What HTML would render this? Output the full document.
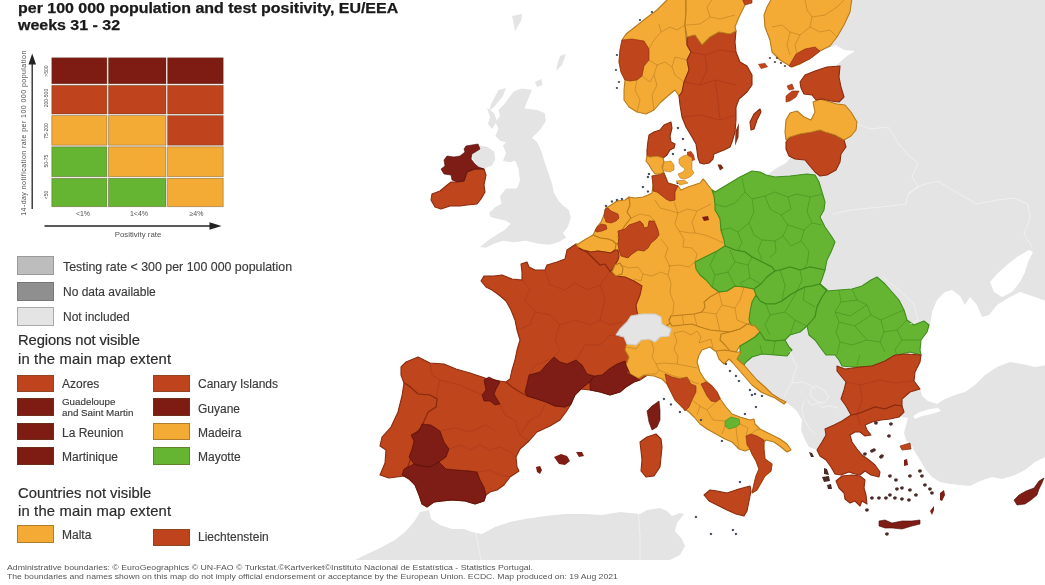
<!DOCTYPE html>
<html><head><meta charset="utf-8"><title>ECDC map</title>
<style>
html,body{margin:0;padding:0;background:#fff;}
body{width:1045px;height:585px;position:relative;overflow:hidden;font-family:"Liberation Sans",sans-serif;color:#333;}
#map{position:absolute;left:0;top:0;width:1045px;height:585px;}
.t{position:absolute;white-space:nowrap;line-height:1;}
.t,.lb,.hd,.ft,.tiny{filter:blur(0.35px);}
.title{left:18px;font-weight:bold;font-size:14px;color:#1a1a1a;transform-origin:0 0;transform:scaleX(1.14);-webkit-text-stroke:0.25px #1a1a1a;}
.sw{position:absolute;box-sizing:border-box;border:1px solid rgba(90,70,40,.45);}
.lb{position:absolute;white-space:nowrap;font-size:12px;line-height:12px;color:#3a3a3a;-webkit-text-stroke:0.15px #3a3a3a;}
.hd{position:absolute;white-space:nowrap;font-size:14.8px;line-height:15px;color:#2c2c2c;left:18px;-webkit-text-stroke:0.2px #2c2c2c;}
.ft{position:absolute;white-space:nowrap;font-size:8px;line-height:8px;color:#555;left:7px;transform-origin:0 0;}
.tiny{position:absolute;white-space:nowrap;font-size:6px;line-height:6px;color:#505050;}
</style></head><body>
<svg id="map" viewBox="0 0 1045 585">
<g filter="url(#bl)">
<polygon points="852,0 1045,0 1045,457 1035,462 1025,470 1015,475 1002,479 992,477 980,481 970,486 960,485 950,484 940,482 932,477 926,470 920,460 915,452 912,446 906,440 904,433 906,425 908,418 902,417 897,413 902,406 902,399 910,392 920,389 914,381 915,372 920,362 900,340 860,330 810,300 800,260 805,200 790,180 766,176 775,169 786,163 790,158 800,150 825,125 830,100 832,70 840,62 847,56 855,51 844,50 836,45 826,49 831,44 837,35 842,25 849,12" fill="#e4e4e4"/>
<polygon points="921,356 920,350 921,340 927,332 930,325 932,312 937,300 945,292 952,290 960,296 965,305 970,297 977,305 982,317 989,315 997,305 1010,297 1020,292 1035,297 1046,301 1046,365 1035,367 1022,364 1010,362 997,367 985,375 975,385 965,392 955,395 945,399 937,404 928,401 922,396 920,389 914,381 915,372 920,362" fill="#fff"/>
<polygon points="990,282 997,274 1007,265 1017,257 1029,250 1033,252 1028,262 1025,272 1020,282 1012,292 1002,297 994,292" fill="#fff"/>
<polygon points="913,416 920,412 930,409 938,408 941,411 932,414 922,416 915,419" fill="#fff"/>
<polygon points="745,350 770,330 830,325 850,370 855,420 830,452 817,450 809,447 805,440 801,430 802,420 797,411 786,402 775,396 760,385 745,370" fill="#e4e4e4"/>
<polygon points="355,560 365,555 380,548 395,540 405,532 414,522 420,512 429,510 431,519 440,525 452,529 464,529 472,532 482,534 495,527 510,522 525,519 545,516 565,514 585,514 602,515 620,512 640,514 647,510 660,508 667,511 672,516 680,513 684,514 677,523 675,531 682,539 685,546 680,555 670,560" fill="#e4e4e4"/>
<polygon points="513.8,91.5 521.5,88.5 532,90 526,104 524.6,108.5 537,110 544.6,113 546,120.8 540,130 532,137.7 537,142 541.5,151.5 544.6,162.3 549,174.6 552,184 554,193 558.5,200.8 563,205.4 569,210 570.8,217.7 567.7,227 563,233 566,237.7 558.5,242.3 549,244.8 538.5,243.8 526,240.8 513.8,242.3 503,240.8 493.8,243.8 486,247.8 480,247 487.7,240.8 497,234.6 504.6,230 510.8,223.8 506,220.8 498.5,219 490.8,217 489,213 495.4,207 501.5,203.8 500,196 506,188.5 517,188.5 520,180.8 518.5,168.5 515.4,160.8 509,162.3 503,160.8 506,153 503,145.4 506,142.3 500,140.8 495.4,136 498.5,128.5 495.4,122.3 500,116 498.5,110 504.6,103.8 509,97.7" fill="#e4e4e4"/>
<polygon points="498.5,90 506,88 503,96 494,107 489,111.5 491,104" fill="#e4e4e4"/>
<polygon points="487,108 494,113 497,121 492,129 488,124 490,117" fill="#e4e4e4"/>
<polygon points="535,82 541.5,79 542.5,85 537,87" fill="#e4e4e4"/>
<polygon points="560,56 566,54 562,65 556,71 558,62" fill="#e4e4e4"/>
<polygon points="512,16 522,14 521,21 515,31 514,25" fill="#e4e4e4"/>
<polygon points="480,145.4 487.7,147 494,151.5 495.4,159 492,165.4 484.6,168.5 478.5,167 472,158 474,151" fill="#e4e4e4"/>
<polygon points="629,197 635,198 643,197 648,195 652,193 653,185 652,176 658,175 664,173 668,183 675,185 678,186 681,190 688,187 694,185 700,183 703,179 705,181 708,185 712,190 730,200 730,260 722,295 705,320 672,332 650,330 630,318 630,290 610,275 610,230" fill="#f3ab36" stroke="#b87a1c" stroke-width="1.1" stroke-linejoin="round"/>
<polygon points="576,244 567,250 565,259 557,262 547,265 545,270 535,270 529,267 527,262 521,264 522,272 522,280 512,279 502,275 494,276 484,276 481,281 486,287 492,290 499,295 506,301 511,310 515,320 517,330 520,340 517,350 515,360 512,370 510,379 506,382 506,392 540,412 566,410 571,404 575,395 581,389 590,390 600,392 610,395 620,392 626,387 634,382 640,380 652,372 648,340 640,320 637,312 636,305 640,295 642,286 634,281 625,277 616,276 610,271 605,264 600,265 595,260 587,252 580,249" fill="#bf441d" stroke="#8a2c10" stroke-width="1.1" stroke-linejoin="round"/>
<polygon points="640,380 637,380 644,375 654,376 662,379 667,384 671,392 675,400 682,407 689,412 694,417 700,424 707,429 716,434 725,439 732,442 739,449 745,451 750,449 752,454 756,461 759,469 756,476 754,484 752,493 757,490 761,483 765,476 771,471 772,464 765,459 764,449 764,442 766,440 774,442 781,447 787,452 791,450 787,444 780,439 770,434 760,429 755,424 754,419 750,420 740,417 732,414 726,407 721,400 717,392 712,386 705,380 700,372 697,362 699,355 702,350 710,347 715,351 732,352 735,333 710,326 690,320 672,322 660,330 640,335 624,337 627,342 625,350 629,357 626,365 630,374" fill="#f3ab36" stroke="#b87a1c" stroke-width="1.1" stroke-linejoin="round"/>
<polygon points="704,302 710,297 719,292 727,291 735,286 744,287 754,289 758,295 754,302 752,310 752,316 749,324 740,329 730,332 720,331 710,330 700,327 692,324 682,325 672,326 669,321 671,316 682,315 694,314 702,312 705,307" fill="#f3ab36" stroke="#b87a1c" stroke-width="1.1" stroke-linejoin="round"/>
<polygon points="616,335 620,329 627,322 631,316 642,314 655,314 661,317 662,324 671,329 669,336 660,337 655,342 649,339 641,340 636,345 627,344 624,337" fill="#e4e4e4" stroke="#cfcfcf" stroke-width="1.1" stroke-linejoin="round"/>
<polygon points="593,235 597,227 601,222 604,215 606,208 611,205 617,201 625,200 629,197 630,205 627,212 631,218 626,224 622,230 618,236 619,243 616,244 613,241 608,239 600,238" fill="#f3ab36" stroke="#b87a1c" stroke-width="1.1" stroke-linejoin="round"/>
<polygon points="576,244 578,244 586,239 593,235 600,238 608,239 613,241 616,244 615,250 611,253 605,252 598,251 591,252 583,250 579,248" fill="#f3ab36" stroke="#b87a1c" stroke-width="1.1" stroke-linejoin="round"/>
<polygon points="579,248 583,250 591,252 598,251 605,252 611,253 615,250 618,250 619,256 618,260 615,265 612,270 610,271 605,264 600,265 595,260 587,252 580,249" fill="#bf441d" stroke="#8a2c10" stroke-width="1.1" stroke-linejoin="round"/>
<polygon points="615,265 620,263 623,268 622,274 616,276 612,272" fill="#f3ab36" stroke="#b87a1c" stroke-width="1.1" stroke-linejoin="round"/>
<polygon points="605,209 608,208 611,211 618,214 619,218 616,221 611,223 606,222 604,216" fill="#bf441d" stroke="#8a2c10" stroke-width="0.6" stroke-linejoin="round"/>
<polygon points="597,227 601,224 606,225 607,229 602,231 597,232 595,231" fill="#bf441d" stroke="#8a2c10" stroke-width="0.6" stroke-linejoin="round"/>
<polygon points="618,231 625,229 629,225 635,223 640,221 643,224 644,228 648,227 649,221 654,221 656,225 658,230 659,235 656,239 651,243 648,248 644,251 638,250 632,254 628,258 621,256 619,250 618,244 619,238" fill="#bf441d" stroke="#8a2c10" stroke-width="0.7" stroke-linejoin="round"/>
<polygon points="652,176 658,175 664,173 668,183 675,185 678,186 675,192 675,200 670,201 666,199 661,195 657,192 653,191 653,185" fill="#bf441d" stroke="#8a2c10" stroke-width="0.7" stroke-linejoin="round"/>
<polygon points="702,217 708,216 709,220 704,221" fill="#7e1b13"/>
<polygon points="712,190 715,192 725,186 740,177 752,171 760,172 766,175 775,177 790,176 807,174 815,175 819,182 822,192 825,202 824,210 820,217 825,227 832,237 835,242 831,252 827,260 825,270 820,269 810,267 800,270 790,267 780,270 775,271 772,267 762,262 752,257 745,252 735,250 725,246 724,240 721,230 720,219 718,215 715,210 715,204 714,196" fill="#66b532" stroke="#3f8d1d" stroke-width="1.1" stroke-linejoin="round"/>
<polygon points="695,262 705,257 717,251 725,246 735,250 745,252 752,257 762,262 772,267 775,271 767,277 761,284 754,289 744,287 735,286 727,291 719,292 712,287 706,280 700,275 696,269" fill="#66b532" stroke="#3f8d1d" stroke-width="1.1" stroke-linejoin="round"/>
<polygon points="775,271 780,270 790,267 800,270 810,267 820,269 825,270 822,279 820,284 812,286 805,287 797,291 790,295 782,301 775,304 766,304 760,301 756,295 754,289 761,284 767,277" fill="#66b532" stroke="#3f8d1d" stroke-width="1.1" stroke-linejoin="round"/>
<polygon points="752,302 756,295 760,301 766,304 775,304 782,301 790,295 797,291 805,287 812,286 820,284 827,290 822,297 817,307 815,317 807,326 800,332 790,335 785,340 775,341 765,340 757,334 752,327 749,320 750,312" fill="#66b532" stroke="#3f8d1d" stroke-width="1.1" stroke-linejoin="round"/>
<polygon points="820,284 827,291 839,290 852,289 862,286 871,280 877,277 885,284 892,292 899,300 904,310 907,320 914,325 924,321 929,325 927,332 921,340 920,350 921,355 910,352 897,355 887,360 877,365 865,367 852,367 842,366 839,360 835,355 826,355 820,347 815,340 809,335 807,326 815,317 817,307 822,297 827,290" fill="#66b532" stroke="#3f8d1d" stroke-width="1.1" stroke-linejoin="round"/>
<polygon points="730,332 740,329 747,324 755,326 760,332 755,337 747,342 740,346 736,352 730,351 725,345 720,340 721,334" fill="#f3ab36" stroke="#b87a1c" stroke-width="1.1" stroke-linejoin="round"/>
<polygon points="740,346 747,342 755,337 760,332 765,340 775,341 785,340 789,347 792,350 787,356 775,355 762,354 752,357 746,362 744,365 736,359 740,352" fill="#66b532" stroke="#3f8d1d" stroke-width="1.1" stroke-linejoin="round"/>
<polygon points="716,351 725,350 736,352 741,352 737,359 744,365 750,372 757,380 765,387 772,394 780,399 786,402 784,404 775,398 770,396 761,392 752,385 745,377 739,370 733,363 729,359 724,364 719,359" fill="#f3ab36" stroke="#b87a1c" stroke-width="1.1" stroke-linejoin="round"/>
<polygon points="837,366 845,369 860,367 872,366 885,361 895,355 907,354 921,355 920,362 915,372 914,381 920,389 910,392 902,399 902,406 895,405 885,409 875,407 865,411 857,414 851,415 846,406 841,399 844,390 846,382 841,376 837,371" fill="#bf441d" stroke="#8a2c10" stroke-width="1.1" stroke-linejoin="round"/>
<polygon points="851,415 857,414 865,411 875,407 885,409 895,405 902,406 904,412 899,417 890,419 881,420 872,422 865,425 867,430 871,435 865,436 860,432 855,432 850,435 852,442 857,449 862,455 869,460 875,465 880,472 879,477 871,475 865,471 860,475 855,474 849,472 841,475 835,474 831,467 826,460 820,456 817,450 822,442 826,435 825,429 834,425 842,421" fill="#bf441d" stroke="#8a2c10" stroke-width="1.1" stroke-linejoin="round"/>
<polygon points="836,481 842,476 852,475 860,476 865,480 864,488 866,495 867,504 862,501 860,506 855,501 850,503 845,499 844,493 839,488" fill="#bf441d" stroke="#8a2c10" stroke-width="1.1" stroke-linejoin="round"/>
<polygon points="879,521 885,520 892,523 902,521 912,521 920,520 920,524 912,526 902,529 892,528 885,528 879,526" fill="#7e1b13" stroke="#4e0e09" stroke-width="0.6" stroke-linejoin="round"/>
<polygon points="1014,500 1019,495 1026,491 1034,488 1039,481 1044,478 1042,483 1039,489 1037,495 1031,500 1025,504 1017,505" fill="#7e1b13" stroke="#4e0e09" stroke-width="0.6" stroke-linejoin="round"/>
<polygon points="401,367 406,362 418,357 430,363 444,364 456,369 470,373 485,378 500,381 506,382 512,387 520,392 527,396 537,399 546,402 555,406 565,407 571,404 566,412 560,420 550,426 537,432 529,441 520,449 516,457 517,467 519,471 510,477 504,485 497,490 490,492 486,495 484,501 475,504 465,501 452,500 442,501 434,502 427,507 422,504 419,495 415,485 409,479 402,475 404,476 408,466 412,455 417,443 414,434 421,428 424,421 428,412 436,407 437,399 430,395 418,394 409,386 404,383 401,375" fill="#bf441d" stroke="#8a2c10" stroke-width="1.1" stroke-linejoin="round"/>
<polygon points="404,383 409,386 418,394 430,395 437,399 436,407 428,412 424,421 421,428 414,434 417,443 412,455 408,466 404,476 389,478 380,475 385,463 386,450 380,446 382,437 391,427 398,412 402,396" fill="#bf441d" stroke="#8a2c10" stroke-width="1.1" stroke-linejoin="round"/>
<polygon points="484,380 489,377 495,380 500,382 496,389 494,394 497,399 500,404 495,405 490,401 484,401 482,395 486,390 485,385" fill="#7e1b13" stroke="#4e0e09" stroke-width="0.6" stroke-linejoin="round"/>
<polygon points="411,435 419,431 422,424 431,425 440,431 444,442 449,449 446,457 439,462 430,467 421,466 414,464 409,457 412,449 414,441" fill="#7e1b13" stroke="#4e0e09" stroke-width="0.6" stroke-linejoin="round"/>
<polygon points="414,464 421,466 430,467 439,462 446,469 457,470 470,471 477,472 480,480 484,487 486,495 484,501 475,504 465,501 452,500 442,501 434,502 427,507 422,504 419,495 415,485 409,479 402,475 404,469" fill="#7e1b13" stroke="#4e0e09" stroke-width="0.6" stroke-linejoin="round"/>
<polygon points="554,457 561,454 567,456 570,461 565,465 559,464" fill="#7e1b13"/>
<polygon points="576,452 582,452 584,456 579,457" fill="#7e1b13"/>
<polygon points="536,467 540,466 542,470 540,474 537,472" fill="#7e1b13"/>
<polygon points="525,392 527,384 529,375 540,372 547,364 554,357 560,362 567,364 576,360 582,365 587,374 594,376 590,382 581,389 575,395 571,404 565,407 555,406 546,402 537,399 527,396" fill="#7e1b13" stroke="#4e0e09" stroke-width="0.6" stroke-linejoin="round"/>
<polygon points="594,376 602,375 609,369 617,364 625,361 626,365 630,374 640,380 634,382 626,387 620,392 610,395 600,392 590,390 590,382" fill="#7e1b13" stroke="#4e0e09" stroke-width="0.6" stroke-linejoin="round"/>
<polygon points="647,411 652,406 659,401 660,410 660,420 657,427 652,430 649,422" fill="#7e1b13" stroke="#4e0e09" stroke-width="0.6" stroke-linejoin="round"/>
<polygon points="640,442 647,437 656,434 661,439 662,447 661,457 660,467 654,476 646,477 641,471 642,460 641,451" fill="#bf441d" stroke="#8a2c10" stroke-width="1.1" stroke-linejoin="round"/>
<polygon points="704,495 710,490 717,491 727,493 739,489 750,486 751,491 749,501 747,511 744,516 736,514 727,510 717,505 709,501" fill="#bf441d" stroke="#8a2c10" stroke-width="1.1" stroke-linejoin="round"/>
<polygon points="665,374 672,377 680,379 687,377 691,384 696,386 696,392 692,400 689,407 685,411 682,407 675,400 671,392 667,384" fill="#bf441d" stroke="#8a2c10" stroke-width="0.6" stroke-linejoin="round"/>
<polygon points="701,384 706,382 712,386 717,392 720,399 716,402 711,401 707,396 704,390" fill="#bf441d" stroke="#8a2c10" stroke-width="0.6" stroke-linejoin="round"/>
<polygon points="725,421 731,417 739,419 740,424 736,427 729,429 725,426" fill="#66b532" stroke="#3f8d1d" stroke-width="0.6" stroke-linejoin="round"/>
<polygon points="746,436 751,434 757,436 764,440 764,449 765,459 772,464 771,471 765,476 761,483 757,490 752,493 754,484 756,476 759,469 756,461 752,454 750,449 747,445" fill="#bf441d" stroke="#8a2c10" stroke-width="0.6" stroke-linejoin="round"/>
<polygon points="484,169 486,175 484,185 485,192 481,199 477,204 467,205 460,206 450,206 441,209 435,207 431,200 432,194 440,191 446,186 451,182 457,182 464,181 467,172 475,169" fill="#bf441d" stroke="#8a2c10" stroke-width="1.1" stroke-linejoin="round"/>
<polygon points="466,146 478,144 480,149 472,154 471,159 475,164 478.5,167 484,169 475,169 467,172 464,181 457,182 452,180 451,175 444,174 441,169 445,166 444,160 447,156 454,157 460,156 465,152 464,149" fill="#7e1b13" stroke="#4e0e09" stroke-width="0.6" stroke-linejoin="round"/>
<polygon points="667,0 657,10 645,19 635,27 626,34 622,40 620,50 619,62 621,72 625,80 624,90 624,100 629,107 637,112 646,114 654,110 661,102 669,95 675,90 679,96 682,92 684,82 689,70 687,60 691,52 687,45 686,37 685,25 686,12 686,-2 667,-2" fill="#f3ab36" stroke="#b87a1c" stroke-width="1.1" stroke-linejoin="round"/>
<polygon points="622,40 632,39 644,41 649,49 649,60 644,66 642,76 637,80 630,81 625,80 621,72 619,62 620,50" fill="#bf441d" stroke="#8a2c10" stroke-width="0.6" stroke-linejoin="round"/>
<polygon points="687,37 695,35 702,45 710,37 719,32 730,34 736,31 735,42 736,52 740,62 747,66 752,75 752,85 747,92 739,99 736,107 736,120 735,132 732,142 730,147 724,150 719,152 714,154 713,159 709,163 704,164 700,163 698,158 697,151 696,144 692,137 686,127 682,117 680,105 679,96 682,92 684,82 689,70 687,60 691,52 687,45" fill="#bf441d" stroke="#8a2c10" stroke-width="1.1" stroke-linejoin="round"/>
<polygon points="686,-2 742,-2 745,5 739,17 735,27 736,31 730,34 719,32 710,37 702,45 695,35 687,37 685,25 686,12" fill="#f3ab36" stroke="#b87a1c" stroke-width="1.1" stroke-linejoin="round"/>
<polygon points="742,-2 752,-2 752,3 745,5" fill="#bf441d" stroke="#8a2c10" stroke-width="0.6" stroke-linejoin="round"/>
<polygon points="750,122 754,114 760,109 761,112 757,120 754,129 751,130" fill="#bf441d" stroke="#8a2c10" stroke-width="1.1" stroke-linejoin="round"/>
<polygon points="735.5,131 739,123 738.5,137 735,146" fill="#8a3018"/>
<polygon points="772,-2 852,-2 850,12 844,25 837,37 830,46 820,51 812,57 800,64 792,67 790,66 780,60 772,52 770,40 765,27 764,15 767,7" fill="#f3ab36" stroke="#b87a1c" stroke-width="1.1" stroke-linejoin="round"/>
<polygon points="789,66 796,54 805,49 815,47 820,51 810,59 799,64 791,67" fill="#bf441d" stroke="#8a2c10" stroke-width="0.6" stroke-linejoin="round"/>
<polygon points="758,64 765,63 768,67 761,69" fill="#bf441d"/>
<polygon points="649,135 654,132 660,130 664,125 671,122 672,128 670,136 671,142 675,144 674,148 670,150 667,155 663,158 657,156 650,157 647,156 647,150 648,141" fill="#bf441d" stroke="#8a2c10" stroke-width="1.1" stroke-linejoin="round"/>
<polygon points="647,156 650,157 657,156 663,158 664,162 662,167 664,172 660,174 655,174 652,170 649,165 646,161" fill="#f3ab36" stroke="#b87a1c" stroke-width="1.1" stroke-linejoin="round"/>
<polygon points="664,162 671,161 674,165 674,170 670,172 665,171 663,167" fill="#f3ab36" stroke="#b87a1c" stroke-width="0.6" stroke-linejoin="round"/>
<polygon points="679,159 683,156 687,155 692,158 692,164 692,170 694,173 690,177 685,179 680,178 678,174 683,172 685,169 681,166 679,163" fill="#f3ab36" stroke="#b87a1c" stroke-width="0.6" stroke-linejoin="round"/>
<polygon points="687,152 691,151 694,155 695,160 692,161 692,158 687,155" fill="#bf441d"/>
<polygon points="717.5,164.5 721,164.5 723.5,168 720,170.5" fill="#7a2a18"/>
<polygon points="786,142 790,137 800,134 812,132 820,130 825,132 835,135 844,140 846,147 841,154 840,162 836,170 827,175 820,176 815,172 809,165 805,160 795,159 789,156 786,149" fill="#bf441d" stroke="#8a2c10" stroke-width="1.1" stroke-linejoin="round"/>
<polygon points="785,132 786,120 790,113 797,111 804,117 811,120 815,112 813,102 820,99 830,102 837,104 845,105 851,112 857,122 856,130 851,136 844,140 835,135 825,132 820,130 812,132 800,134 790,137 786,140" fill="#f3ab36" stroke="#b87a1c" stroke-width="1.1" stroke-linejoin="round"/>
<polygon points="800,82 805,75 815,71 827,67 840,66 839,77 841,87 844,97 839,102 831,101 822,99 816,100 812,95 804,94 801,88" fill="#bf441d" stroke="#8a2c10" stroke-width="1.1" stroke-linejoin="round"/>
<polygon points="786,96 792,91 799,91 796,97 790,101 786,102" fill="#bf441d" stroke="#8a2c10" stroke-width="0.6" stroke-linejoin="round"/>
<polygon points="787,86 792,84 794,89 789,90" fill="#bf441d" stroke="#8a2c10" stroke-width="0.6" stroke-linejoin="round"/>
<polygon points="872.2,448.92 874,448.2 875.8,449.1 875.44,451.26 873.46,451.8 872.2,450.72" fill="#4a2a26"/>
<polygon points="880.2,454.92 882,454.2 883.8,455.1 883.44,457.26 881.46,457.8 880.2,456.72" fill="#4a2a26"/>
<polygon points="863.2,452.92 865,452.2 866.8,453.1 866.44,455.26 864.46,455.8 863.2,454.72" fill="#4a2a26"/>
<polygon points="888.2,474.92 890,474.2 891.8,475.1 891.44,477.26 889.46,477.8 888.2,476.72" fill="#4a2a26"/>
<polygon points="894.2,478.92 896,478.2 897.8,479.1 897.44,481.26 895.46,481.8 894.2,480.72" fill="#4a2a26"/>
<polygon points="908.2,474.92 910,474.2 911.8,475.1 911.44,477.26 909.46,477.8 908.2,476.72" fill="#4a2a26"/>
<polygon points="918.2,469.92 920,469.2 921.8,470.1 921.44,472.26 919.46,472.8 918.2,471.72" fill="#4a2a26"/>
<polygon points="920.2,474.92 922,474.2 923.8,475.1 923.44,477.26 921.46,477.8 920.2,476.72" fill="#4a2a26"/>
<polygon points="923.2,483.92 925,483.2 926.8,484.1 926.44,486.26 924.46,486.8 923.2,485.72" fill="#4a2a26"/>
<polygon points="928.2,487.92 930,487.2 931.8,488.1 931.44,490.26 929.46,490.8 928.2,489.72" fill="#4a2a26"/>
<polygon points="930.2,491.92 932,491.2 933.8,492.1 933.44,494.26 931.46,494.8 930.2,493.72" fill="#4a2a26"/>
<polygon points="908.2,488.92 910,488.2 911.8,489.1 911.44,491.26 909.46,491.8 908.2,490.72" fill="#4a2a26"/>
<polygon points="900.2,486.92 902,486.2 903.8,487.1 903.44,489.26 901.46,489.8 900.2,488.72" fill="#4a2a26"/>
<polygon points="895.2,487.92 897,487.2 898.8,488.1 898.44,490.26 896.46,490.8 895.2,489.72" fill="#4a2a26"/>
<polygon points="888.2,493.92 890,493.2 891.8,494.1 891.44,496.26 889.46,496.8 888.2,495.72" fill="#4a2a26"/>
<polygon points="884.2,496.92 886,496.2 887.8,497.1 887.44,499.26 885.46,499.8 884.2,498.72" fill="#4a2a26"/>
<polygon points="893.2,496.92 895,496.2 896.8,497.1 896.44,499.26 894.46,499.8 893.2,498.72" fill="#4a2a26"/>
<polygon points="900.2,497.92 902,497.2 903.8,498.1 903.44,500.26 901.46,500.8 900.2,499.72" fill="#4a2a26"/>
<polygon points="907.2,498.92 909,498.2 910.8,499.1 910.44,501.26 908.46,501.8 907.2,500.72" fill="#4a2a26"/>
<polygon points="914.2,493.92 916,493.2 917.8,494.1 917.44,496.26 915.46,496.8 914.2,495.72" fill="#4a2a26"/>
<polygon points="870.2,496.92 872,496.2 873.8,497.1 873.44,499.26 871.46,499.8 870.2,498.72" fill="#4a2a26"/>
<polygon points="877.2,496.92 879,496.2 880.8,497.1 880.44,499.26 878.46,499.8 877.2,498.72" fill="#4a2a26"/>
<polygon points="865.2,508.92 867,508.2 868.8,509.1 868.44,511.26 866.46,511.8 865.2,510.72" fill="#4a2a26"/>
<polygon points="885.2,532.92 887,532.2 888.8,533.1 888.44,535.26 886.46,535.8 885.2,534.72" fill="#4a2a26"/>
<polygon points="879.2,455.92 881,455.2 882.8,456.1 882.44,458.26 880.46,458.8 879.2,457.72" fill="#4a2a26"/>
<polygon points="870.2,449.92 872,449.2 873.8,450.1 873.44,452.26 871.46,452.8 870.2,451.72" fill="#4a2a26"/>
<polygon points="874.2,421.92 876,421.2 877.8,422.1 877.44,424.26 875.46,424.8 874.2,423.72" fill="#4a2a26"/>
<polygon points="889.2,422.92 891,422.2 892.8,423.1 892.44,425.26 890.46,425.8 889.2,424.72" fill="#4a2a26"/>
<polygon points="887.2,434.92 889,434.2 890.8,435.1 890.44,437.26 888.46,437.8 887.2,436.72" fill="#4a2a26"/>
<polygon points="900,446 910,443 911,449 902,450" fill="#bf441d" stroke="#8a2c10" stroke-width="0.7" stroke-linejoin="round"/>
<polygon points="904,460 907,459 908,465 904,466" fill="#7e1b13"/>
<polygon points="940,493 944,490 945,495 942,501 940,500" fill="#7e1b13"/>
<polygon points="930,511 934,506 934,510 932,515" fill="#7e1b13"/>
<polygon points="809,452 812,453 814,457 811,457" fill="#4a2a26"/>
<polygon points="824,468 827,469 829,475 824,474" fill="#4a2a26"/>
<polygon points="822,477 829,476 830,481 824,482" fill="#4a2a26"/>
<polygon points="827,485 831,484 832,489 828,489" fill="#4a2a26"/>
<polygon points="662.8,398.28 664,397.8 665.2,398.4 664.96,399.84 663.64,400.2 662.8,399.48" fill="#3f4c5c"/>
<polygon points="669.8,403.78 671,403.3 672.2,403.9 671.96,405.34 670.64,405.7 669.8,404.98" fill="#3f4c5c"/>
<polygon points="678.8,411.28 680,410.8 681.2,411.4 680.96,412.84 679.64,413.2 678.8,412.48" fill="#3f4c5c"/>
<polygon points="699.8,419.28 701,418.8 702.2,419.4 701.96,420.84 700.64,421.2 699.8,420.48" fill="#3f4c5c"/>
<polygon points="720.8,440.28 722,439.8 723.2,440.4 722.96,441.84 721.64,442.2 720.8,441.48" fill="#3f4c5c"/>
<polygon points="743.8,413.28 745,412.8 746.2,413.4 745.96,414.84 744.64,415.2 743.8,414.48" fill="#3f4c5c"/>
<polygon points="738.8,481.28 740,480.8 741.2,481.4 740.96,482.84 739.64,483.2 738.8,482.48" fill="#3f4c5c"/>
<polygon points="754.8,406.28 756,405.8 757.2,406.4 756.96,407.84 755.64,408.2 754.8,407.48" fill="#3f4c5c"/>
<polygon points="750.8,394.28 752,393.8 753.2,394.4 752.96,395.84 751.64,396.2 750.8,395.48" fill="#3f4c5c"/>
<polygon points="724.8,363.28 726,362.8 727.2,363.4 726.96,364.84 725.64,365.2 724.8,364.48" fill="#3f4c5c"/>
<polygon points="728.8,370.28 730,369.8 731.2,370.4 730.96,371.84 729.64,372.2 728.8,371.48" fill="#3f4c5c"/>
<polygon points="734.8,375.28 736,374.8 737.2,375.4 736.96,376.84 735.64,377.2 734.8,376.48" fill="#3f4c5c"/>
<polygon points="737.8,380.28 739,379.8 740.2,380.4 739.96,381.84 738.64,382.2 737.8,381.48" fill="#3f4c5c"/>
<polygon points="748.8,389.28 750,388.8 751.2,389.4 750.96,390.84 749.64,391.2 748.8,390.48" fill="#3f4c5c"/>
<polygon points="753.8,393.28 755,392.8 756.2,393.4 755.96,394.84 754.64,395.2 753.8,394.48" fill="#3f4c5c"/>
<polygon points="760.8,395.28 762,394.8 763.2,395.4 762.96,396.84 761.64,397.2 760.8,396.48" fill="#3f4c5c"/>
<polygon points="694.8,516.28 696,515.8 697.2,516.4 696.96,517.84 695.64,518.2 694.8,517.48" fill="#3f4c5c"/>
<polygon points="709.8,533.28 711,532.8 712.2,533.4 711.96,534.84 710.64,535.2 709.8,534.48" fill="#3f4c5c"/>
<polygon points="731.8,529.28 733,528.8 734.2,529.4 733.96,530.84 732.64,531.2 731.8,530.48" fill="#3f4c5c"/>
<polygon points="734.8,533.28 736,532.8 737.2,533.4 736.96,534.84 735.64,535.2 734.8,534.48" fill="#3f4c5c"/>
<polygon points="676.8,127.28 678,126.8 679.2,127.4 678.96,128.84 677.64,129.2 676.8,128.48" fill="#3f4c5c"/>
<polygon points="681.8,138.28 683,137.8 684.2,138.4 683.96,139.84 682.64,140.2 681.8,139.48" fill="#3f4c5c"/>
<polygon points="683.8,149.28 685,148.8 686.2,149.4 685.96,150.84 684.64,151.2 683.8,150.48" fill="#3f4c5c"/>
<polygon points="671.8,153.28 673,152.8 674.2,153.4 673.96,154.84 672.64,155.2 671.8,154.48" fill="#3f4c5c"/>
<polygon points="641.8,186.28 643,185.8 644.2,186.4 643.96,187.84 642.64,188.2 641.8,187.48" fill="#3f4c5c"/>
<polygon points="646.8,190.78 648,190.3 649.2,190.9 648.96,192.34 647.64,192.7 646.8,191.98" fill="#3f4c5c"/>
<polygon points="646.8,176.28 648,175.8 649.2,176.4 648.96,177.84 647.64,178.2 646.8,177.48" fill="#3f4c5c"/>
<polygon points="647.8,173.28 649,172.8 650.2,173.4 649.96,174.84 648.64,175.2 647.8,174.48" fill="#3f4c5c"/>
<polygon points="610.8,200.78 612,200.3 613.2,200.9 612.96,202.34 611.64,202.7 610.8,201.98" fill="#3f4c5c"/>
<polygon points="604.8,205.28 606,204.8 607.2,205.4 606.96,206.84 605.64,207.2 604.8,206.48" fill="#3f4c5c"/>
<polygon points="676.5,182.28 677.7,181.8 678.9,182.4 678.66,183.84 677.34,184.2 676.5,183.48" fill="#3f4c5c"/>
<polygon points="620.8,198.28 622,197.8 623.2,198.4 622.96,199.84 621.64,200.2 620.8,199.48" fill="#3f4c5c"/>
<polygon points="615.8,199.28 617,198.8 618.2,199.4 617.96,200.84 616.64,201.2 615.8,200.48" fill="#3f4c5c"/>
<polygon points="676,181 684,180 688,183 680,185" fill="#f3ab36" stroke="#b87a1c" stroke-width="0.6" stroke-linejoin="round"/>
<polygon points="615.9,54.34 617,53.9 618.1,54.45 617.88,55.77 616.67,56.1 615.9,55.44" fill="#3f4c5c"/>
<polygon points="614.9,69.34 616,68.9 617.1,69.45 616.88,70.77 615.67,71.1 614.9,70.44" fill="#3f4c5c"/>
<polygon points="617.9,81.34 619,80.9 620.1,81.45 619.88,82.77 618.67,83.1 617.9,82.44" fill="#3f4c5c"/>
<polygon points="615.9,87.34 617,86.9 618.1,87.45 617.88,88.77 616.67,89.1 615.9,88.44" fill="#3f4c5c"/>
<polygon points="650.9,11.34 652,10.9 653.1,11.45 652.88,12.77 651.67,13.1 650.9,12.44" fill="#3f4c5c"/>
<polygon points="638.9,19.34 640,18.9 641.1,19.45 640.88,20.77 639.67,21.1 638.9,20.44" fill="#3f4c5c"/>
<polygon points="768.9,57.34 770,56.9 771.1,57.45 770.88,58.77 769.67,59.1 768.9,58.44" fill="#5a4a4a"/>
<polygon points="773.9,61.34 775,60.9 776.1,61.45 775.88,62.77 774.67,63.1 773.9,62.44" fill="#5a4a4a"/>
<polygon points="779.9,62.34 781,61.9 782.1,62.45 781.88,63.77 780.67,64.1 779.9,63.44" fill="#5a4a4a"/>
<polygon points="783.9,65.34 785,64.9 786.1,65.45 785.88,66.77 784.67,67.1 783.9,66.44" fill="#5a4a4a"/>
<polygon points="775.9,57.34 777,56.9 778.1,57.45 777.88,58.77 776.67,59.1 775.9,58.44" fill="#5a4a4a"/>
<polyline points="674,202 678,213 675,224 679,231 684,239 683,247" fill="none" stroke="#b87a1c" stroke-opacity="0.8" stroke-width="0.7" stroke-linejoin="round"/>
<polyline points="678,213 687,209 697,211 705,207 711,204" fill="none" stroke="#b87a1c" stroke-opacity="0.8" stroke-width="0.7" stroke-linejoin="round"/>
<polyline points="695,233 705,235 715,239 723,243" fill="none" stroke="#b87a1c" stroke-opacity="0.8" stroke-width="0.7" stroke-linejoin="round"/>
<polyline points="683,247 692,248 697,254 695,262" fill="none" stroke="#b87a1c" stroke-opacity="0.8" stroke-width="0.7" stroke-linejoin="round"/>
<polyline points="661,239 668,248 665,257 670,266 668,275 671,283" fill="none" stroke="#b87a1c" stroke-opacity="0.8" stroke-width="0.7" stroke-linejoin="round"/>
<polyline points="671,283 670,293 674,303 673,313 668,320" fill="none" stroke="#b87a1c" stroke-opacity="0.8" stroke-width="0.7" stroke-linejoin="round"/>
<polyline points="620,265 629,268 638,267 643,274 641,281 634,279" fill="none" stroke="#b87a1c" stroke-opacity="0.8" stroke-width="0.7" stroke-linejoin="round"/>
<polyline points="643,274 652,276 661,272 668,275" fill="none" stroke="#b87a1c" stroke-opacity="0.8" stroke-width="0.7" stroke-linejoin="round"/>
<polyline points="668,266 679,265 689,267 695,262" fill="none" stroke="#b87a1c" stroke-opacity="0.8" stroke-width="0.7" stroke-linejoin="round"/>
<polyline points="695,233 692,222 697,211" fill="none" stroke="#b87a1c" stroke-opacity="0.8" stroke-width="0.7" stroke-linejoin="round"/>
<polyline points="679,231 690,233 695,233" fill="none" stroke="#b87a1c" stroke-opacity="0.8" stroke-width="0.7" stroke-linejoin="round"/>
<polyline points="655,200 660,208 668,210 678,213" fill="none" stroke="#b87a1c" stroke-opacity="0.8" stroke-width="0.7" stroke-linejoin="round"/>
<polyline points="631,218 640,214 650,216 656,222" fill="none" stroke="#b87a1c" stroke-opacity="0.8" stroke-width="0.7" stroke-linejoin="round"/>
<polyline points="742,178 745,192 752,199 765,196 775,192 788,197 797,194 810,197 823,194" fill="none" stroke="#3f8d1d" stroke-opacity="0.8" stroke-width="0.7" stroke-linejoin="round"/>
<polyline points="752,199 754,212 749,223 754,235 762,240" fill="none" stroke="#3f8d1d" stroke-opacity="0.8" stroke-width="0.7" stroke-linejoin="round"/>
<polyline points="765,196 770,209 781,215 788,225 783,236 775,241 762,240" fill="none" stroke="#3f8d1d" stroke-opacity="0.8" stroke-width="0.7" stroke-linejoin="round"/>
<polyline points="788,197 791,209 781,215" fill="none" stroke="#3f8d1d" stroke-opacity="0.8" stroke-width="0.7" stroke-linejoin="round"/>
<polyline points="810,197 807,212 812,223 804,230 788,225" fill="none" stroke="#3f8d1d" stroke-opacity="0.8" stroke-width="0.7" stroke-linejoin="round"/>
<polyline points="783,236 791,246 801,241 804,230" fill="none" stroke="#3f8d1d" stroke-opacity="0.8" stroke-width="0.7" stroke-linejoin="round"/>
<polyline points="801,241 809,251 807,264 804,269" fill="none" stroke="#3f8d1d" stroke-opacity="0.8" stroke-width="0.7" stroke-linejoin="round"/>
<polyline points="775,241 776,252 770,257" fill="none" stroke="#3f8d1d" stroke-opacity="0.8" stroke-width="0.7" stroke-linejoin="round"/>
<polyline points="812,223 822,225" fill="none" stroke="#3f8d1d" stroke-opacity="0.8" stroke-width="0.7" stroke-linejoin="round"/>
<polyline points="715,204 725,207 735,203 745,192" fill="none" stroke="#3f8d1d" stroke-opacity="0.8" stroke-width="0.7" stroke-linejoin="round"/>
<polyline points="720,230 730,228 738,232 749,223" fill="none" stroke="#3f8d1d" stroke-opacity="0.8" stroke-width="0.7" stroke-linejoin="round"/>
<polyline points="738,232 742,243 738,250" fill="none" stroke="#3f8d1d" stroke-opacity="0.8" stroke-width="0.7" stroke-linejoin="round"/>
<polyline points="762,240 758,250 762,260" fill="none" stroke="#3f8d1d" stroke-opacity="0.8" stroke-width="0.7" stroke-linejoin="round"/>
<polyline points="651,341 654,349 652,357 656,364 659,370 656,374" fill="none" stroke="#b87a1c" stroke-opacity="0.8" stroke-width="0.7" stroke-linejoin="round"/>
<polyline points="674,333 677,341 674,349 678,357 677,364" fill="none" stroke="#b87a1c" stroke-opacity="0.8" stroke-width="0.7" stroke-linejoin="round"/>
<polyline points="656,364 664,363 677,364 687,366 697,368" fill="none" stroke="#b87a1c" stroke-opacity="0.8" stroke-width="0.7" stroke-linejoin="round"/>
<polyline points="659,370 668,374 677,377 687,378 693,382 699,384" fill="none" stroke="#b87a1c" stroke-opacity="0.8" stroke-width="0.7" stroke-linejoin="round"/>
<polyline points="674,333 683,331 691,335 697,331 701,337 699,343" fill="none" stroke="#b87a1c" stroke-opacity="0.8" stroke-width="0.7" stroke-linejoin="round"/>
<polyline points="699,343 705,341 711,339 713,348" fill="none" stroke="#b87a1c" stroke-opacity="0.8" stroke-width="0.7" stroke-linejoin="round"/>
<polyline points="627,372 638,378 648,374 656,374" fill="none" stroke="#b87a1c" stroke-opacity="0.8" stroke-width="0.7" stroke-linejoin="round"/>
<polyline points="627,347 636,349 640,344" fill="none" stroke="#b87a1c" stroke-opacity="0.8" stroke-width="0.7" stroke-linejoin="round"/>
<polyline points="692,400 700,406 707,410 716,402" fill="none" stroke="#b87a1c" stroke-opacity="0.8" stroke-width="0.7" stroke-linejoin="round"/>
<polyline points="700,406 697,415" fill="none" stroke="#b87a1c" stroke-opacity="0.8" stroke-width="0.7" stroke-linejoin="round"/>
<polyline points="707,410 713,420 725,421" fill="none" stroke="#b87a1c" stroke-opacity="0.8" stroke-width="0.7" stroke-linejoin="round"/>
<polyline points="725,426 722,434" fill="none" stroke="#b87a1c" stroke-opacity="0.8" stroke-width="0.7" stroke-linejoin="round"/>
<polyline points="740,424 748,428 746,436" fill="none" stroke="#b87a1c" stroke-opacity="0.8" stroke-width="0.7" stroke-linejoin="round"/>
<polyline points="736,427 737,437 739,449" fill="none" stroke="#b87a1c" stroke-opacity="0.8" stroke-width="0.7" stroke-linejoin="round"/>
<polyline points="751,434 756,430 760,429" fill="none" stroke="#b87a1c" stroke-opacity="0.8" stroke-width="0.7" stroke-linejoin="round"/>
<polyline points="682,315 684,325" fill="none" stroke="#b87a1c" stroke-opacity="0.8" stroke-width="0.7" stroke-linejoin="round"/>
<polyline points="694,314 697,326" fill="none" stroke="#b87a1c" stroke-opacity="0.8" stroke-width="0.7" stroke-linejoin="round"/>
<polyline points="719,292 722,305 735,308 740,300 744,287" fill="none" stroke="#b87a1c" stroke-opacity="0.8" stroke-width="0.7" stroke-linejoin="round"/>
<polyline points="722,305 716,314 720,331" fill="none" stroke="#b87a1c" stroke-opacity="0.8" stroke-width="0.7" stroke-linejoin="round"/>
<polyline points="735,308 737,320 747,324" fill="none" stroke="#b87a1c" stroke-opacity="0.8" stroke-width="0.7" stroke-linejoin="round"/>
<polyline points="716,314 702,312" fill="none" stroke="#b87a1c" stroke-opacity="0.8" stroke-width="0.7" stroke-linejoin="round"/>
<polyline points="659,24 661,32 670,27 677,30 685,25" fill="none" stroke="#b87a1c" stroke-opacity="0.8" stroke-width="0.7" stroke-linejoin="round"/>
<polyline points="661,32 654,40 649,49" fill="none" stroke="#b87a1c" stroke-opacity="0.8" stroke-width="0.7" stroke-linejoin="round"/>
<polyline points="649,60 657,65 665,62 672,67 675,75 684,82" fill="none" stroke="#b87a1c" stroke-opacity="0.8" stroke-width="0.7" stroke-linejoin="round"/>
<polyline points="657,65 654,75 657,85 652,95 654,110" fill="none" stroke="#b87a1c" stroke-opacity="0.8" stroke-width="0.7" stroke-linejoin="round"/>
<polyline points="642,76 650,82 654,75" fill="none" stroke="#b87a1c" stroke-opacity="0.8" stroke-width="0.7" stroke-linejoin="round"/>
<polyline points="637,80 635,90 640,100 637,112" fill="none" stroke="#b87a1c" stroke-opacity="0.8" stroke-width="0.7" stroke-linejoin="round"/>
<polyline points="672,67 675,57 687,60" fill="none" stroke="#b87a1c" stroke-opacity="0.8" stroke-width="0.7" stroke-linejoin="round"/>
<polyline points="686,25 700,24 710,17 720,19 735,15" fill="none" stroke="#b87a1c" stroke-opacity="0.8" stroke-width="0.7" stroke-linejoin="round"/>
<polyline points="710,17 707,7 712,0" fill="none" stroke="#b87a1c" stroke-opacity="0.8" stroke-width="0.7" stroke-linejoin="round"/>
<polyline points="805,0 807,10 812,17 810,27 800,35 795,45 797,54" fill="none" stroke="#b87a1c" stroke-opacity="0.8" stroke-width="0.7" stroke-linejoin="round"/>
<polyline points="812,17 825,15 837,7 844,0" fill="none" stroke="#b87a1c" stroke-opacity="0.8" stroke-width="0.7" stroke-linejoin="round"/>
<polyline points="810,27 820,32 830,30 837,37" fill="none" stroke="#b87a1c" stroke-opacity="0.8" stroke-width="0.7" stroke-linejoin="round"/>
<polyline points="772,27 782,25 790,32 800,35" fill="none" stroke="#b87a1c" stroke-opacity="0.8" stroke-width="0.7" stroke-linejoin="round"/>
<polyline points="790,32 787,45 790,55" fill="none" stroke="#b87a1c" stroke-opacity="0.8" stroke-width="0.7" stroke-linejoin="round"/>
<polyline points="691,52 705,55 720,50 736,52" fill="none" stroke="#8a2c10" stroke-opacity="0.5" stroke-width="0.6" stroke-linejoin="round"/>
<polyline points="684,82 700,85 715,80 736,85" fill="none" stroke="#8a2c10" stroke-opacity="0.5" stroke-width="0.6" stroke-linejoin="round"/>
<polyline points="682,117 700,115 720,120 736,115" fill="none" stroke="#8a2c10" stroke-opacity="0.5" stroke-width="0.6" stroke-linejoin="round"/>
<polyline points="705,55 707,70 700,85" fill="none" stroke="#8a2c10" stroke-opacity="0.5" stroke-width="0.6" stroke-linejoin="round"/>
<polyline points="715,80 718,100 720,120" fill="none" stroke="#8a2c10" stroke-opacity="0.5" stroke-width="0.6" stroke-linejoin="round"/>
<polyline points="839,290 841,302 835,312 839,322 836,332 840,342 837,355" fill="none" stroke="#3f8d1d" stroke-opacity="0.8" stroke-width="0.7" stroke-linejoin="round"/>
<polyline points="852,289 857,300 867,305 871,315 881,320 884,332 880,342 885,352" fill="none" stroke="#3f8d1d" stroke-opacity="0.8" stroke-width="0.7" stroke-linejoin="round"/>
<polyline points="841,302 857,300" fill="none" stroke="#3f8d1d" stroke-opacity="0.8" stroke-width="0.7" stroke-linejoin="round"/>
<polyline points="835,312 850,316 867,305" fill="none" stroke="#3f8d1d" stroke-opacity="0.8" stroke-width="0.7" stroke-linejoin="round"/>
<polyline points="839,322 855,326 871,315" fill="none" stroke="#3f8d1d" stroke-opacity="0.8" stroke-width="0.7" stroke-linejoin="round"/>
<polyline points="881,320 892,315 904,310" fill="none" stroke="#3f8d1d" stroke-opacity="0.8" stroke-width="0.7" stroke-linejoin="round"/>
<polyline points="884,332 897,330 907,320" fill="none" stroke="#3f8d1d" stroke-opacity="0.8" stroke-width="0.7" stroke-linejoin="round"/>
<polyline points="880,342 867,340 855,326" fill="none" stroke="#3f8d1d" stroke-opacity="0.8" stroke-width="0.7" stroke-linejoin="round"/>
<polyline points="840,342 852,345 867,340" fill="none" stroke="#3f8d1d" stroke-opacity="0.8" stroke-width="0.7" stroke-linejoin="round"/>
<polyline points="860,355 857,365" fill="none" stroke="#3f8d1d" stroke-opacity="0.8" stroke-width="0.7" stroke-linejoin="round"/>
<polyline points="897,330 902,340 895,350 897,355" fill="none" stroke="#3f8d1d" stroke-opacity="0.8" stroke-width="0.7" stroke-linejoin="round"/>
<polyline points="902,340 920,340" fill="none" stroke="#3f8d1d" stroke-opacity="0.8" stroke-width="0.7" stroke-linejoin="round"/>
<polyline points="766,304 770,315 765,325 770,335" fill="none" stroke="#3f8d1d" stroke-opacity="0.8" stroke-width="0.7" stroke-linejoin="round"/>
<polyline points="770,315 785,312 797,291" fill="none" stroke="#3f8d1d" stroke-opacity="0.8" stroke-width="0.7" stroke-linejoin="round"/>
<polyline points="785,312 795,320 807,326" fill="none" stroke="#3f8d1d" stroke-opacity="0.8" stroke-width="0.7" stroke-linejoin="round"/>
<polyline points="795,320 790,335" fill="none" stroke="#3f8d1d" stroke-opacity="0.8" stroke-width="0.7" stroke-linejoin="round"/>
<polyline points="805,287 803,300 815,307" fill="none" stroke="#3f8d1d" stroke-opacity="0.8" stroke-width="0.7" stroke-linejoin="round"/>
<polyline points="712,287 715,275 710,265 717,251" fill="none" stroke="#3f8d1d" stroke-opacity="0.8" stroke-width="0.7" stroke-linejoin="round"/>
<polyline points="715,275 728,272 735,262 730,250" fill="none" stroke="#3f8d1d" stroke-opacity="0.8" stroke-width="0.7" stroke-linejoin="round"/>
<polyline points="728,272 735,286" fill="none" stroke="#3f8d1d" stroke-opacity="0.8" stroke-width="0.7" stroke-linejoin="round"/>
<polyline points="735,262 748,265 752,257" fill="none" stroke="#3f8d1d" stroke-opacity="0.8" stroke-width="0.7" stroke-linejoin="round"/>
<polyline points="748,265 750,278 761,284" fill="none" stroke="#3f8d1d" stroke-opacity="0.8" stroke-width="0.7" stroke-linejoin="round"/>
<polyline points="750,278 740,283 744,287" fill="none" stroke="#3f8d1d" stroke-opacity="0.8" stroke-width="0.7" stroke-linejoin="round"/>
<polyline points="782,301 785,285 780,270" fill="none" stroke="#3f8d1d" stroke-opacity="0.8" stroke-width="0.7" stroke-linejoin="round"/>
<polyline points="797,291 802,280 800,270" fill="none" stroke="#3f8d1d" stroke-opacity="0.8" stroke-width="0.7" stroke-linejoin="round"/>
<polyline points="760,345 762,354" fill="none" stroke="#3f8d1d" stroke-opacity="0.8" stroke-width="0.7" stroke-linejoin="round"/>
<polyline points="775,341 773,355" fill="none" stroke="#3f8d1d" stroke-opacity="0.8" stroke-width="0.7" stroke-linejoin="round"/>
<polyline points="522,280 530,290 525,300 535,312 530,325 517,330" fill="none" stroke="#8a2c10" stroke-opacity="0.45" stroke-width="0.6" stroke-linejoin="round"/>
<polyline points="545,270 550,285 565,290 575,283 587,290 600,285 610,271" fill="none" stroke="#8a2c10" stroke-opacity="0.45" stroke-width="0.6" stroke-linejoin="round"/>
<polyline points="535,312 550,315 560,325 555,340 560,350 554,357" fill="none" stroke="#8a2c10" stroke-opacity="0.45" stroke-width="0.6" stroke-linejoin="round"/>
<polyline points="560,325 575,320 590,325 600,320 610,325 622,322" fill="none" stroke="#8a2c10" stroke-opacity="0.45" stroke-width="0.6" stroke-linejoin="round"/>
<polyline points="600,285 605,300 600,320" fill="none" stroke="#8a2c10" stroke-opacity="0.45" stroke-width="0.6" stroke-linejoin="round"/>
<polyline points="576,360 585,345 600,345 610,335 620,336" fill="none" stroke="#8a2c10" stroke-opacity="0.45" stroke-width="0.6" stroke-linejoin="round"/>
<polyline points="529,375 535,365 548,360 554,357" fill="none" stroke="#8a2c10" stroke-opacity="0.45" stroke-width="0.6" stroke-linejoin="round"/>
<polyline points="430,363 432,375 440,380 437,392 437,399" fill="none" stroke="#8a2c10" stroke-opacity="0.45" stroke-width="0.6" stroke-linejoin="round"/>
<polyline points="440,380 460,385 482,395" fill="none" stroke="#8a2c10" stroke-opacity="0.45" stroke-width="0.6" stroke-linejoin="round"/>
<polyline points="449,449 460,445 470,450 480,445 490,450 500,447 510,452 516,457" fill="none" stroke="#8a2c10" stroke-opacity="0.45" stroke-width="0.6" stroke-linejoin="round"/>
<polyline points="440,431 455,428 470,432 485,425 495,430" fill="none" stroke="#8a2c10" stroke-opacity="0.45" stroke-width="0.6" stroke-linejoin="round"/>
<polyline points="500,404 505,415 515,420 520,435 529,441" fill="none" stroke="#8a2c10" stroke-opacity="0.45" stroke-width="0.6" stroke-linejoin="round"/>
<polyline points="546,402 540,415 530,420 520,435" fill="none" stroke="#8a2c10" stroke-opacity="0.45" stroke-width="0.6" stroke-linejoin="round"/>
<polyline points="477,472 490,470 500,475 510,477" fill="none" stroke="#8a2c10" stroke-opacity="0.45" stroke-width="0.6" stroke-linejoin="round"/>
<polyline points="857,414 860,425" fill="none" stroke="#8a2c10" stroke-opacity="0.45" stroke-width="0.6" stroke-linejoin="round"/>
<polyline points="846,382 860,385 880,380 895,383 914,381" fill="none" stroke="#8a2c10" stroke-opacity="0.45" stroke-width="0.6" stroke-linejoin="round"/>
<polyline points="860,385 862,400 857,414" fill="none" stroke="#8a2c10" stroke-opacity="0.45" stroke-width="0.6" stroke-linejoin="round"/>
<polyline points="857,124 871,129 888,127 898,143 908,155 918,163 912,177 918,186 908,194" fill="none" stroke="#f4f4f4" stroke-opacity="0.75" stroke-width="0.9" stroke-linejoin="round"/>
<polyline points="833,214 851,210 871,208 890,206 906,204 908,194" fill="none" stroke="#f4f4f4" stroke-opacity="0.75" stroke-width="0.9" stroke-linejoin="round"/>
<polyline points="908,194 922,185 938,181 949,188 963,196 977,204 997,200 1014,198 1028,204 1030,218 1024,234 1032,247" fill="none" stroke="#f4f4f4" stroke-opacity="0.75" stroke-width="0.9" stroke-linejoin="round"/>
<polyline points="883,277 898,289 914,304 918,320 910,324" fill="none" stroke="#f4f4f4" stroke-opacity="0.75" stroke-width="0.9" stroke-linejoin="round"/>
<polyline points="790,351 793,359 797,367 794,374 792,383 788,389 784,397" fill="none" stroke="#f4f4f4" stroke-opacity="0.75" stroke-width="0.9" stroke-linejoin="round"/>
<polyline points="792,383 802,382 811,385.5 815.5,390" fill="none" stroke="#f4f4f4" stroke-opacity="0.75" stroke-width="0.9" stroke-linejoin="round"/>
<polyline points="815.5,385.5 824,390 829,397 824,403 818,402 811,397 811,389 815.5,385.5" fill="none" stroke="#f4f4f4" stroke-opacity="0.75" stroke-width="0.9" stroke-linejoin="round"/>
<polyline points="807,399 811,405.5 818,403" fill="none" stroke="#f4f4f4" stroke-opacity="0.75" stroke-width="0.9" stroke-linejoin="round"/>
<polyline points="818,402 822,408 829,405.5 838,408" fill="none" stroke="#f4f4f4" stroke-opacity="0.75" stroke-width="0.9" stroke-linejoin="round"/>
<polyline points="804,401 802,410 804,419 809,428 815.5,434.5" fill="none" stroke="#f4f4f4" stroke-opacity="0.75" stroke-width="0.9" stroke-linejoin="round"/>
<polyline points="476,533 478,545 481,560" fill="none" stroke="#f4f4f4" stroke-opacity="0.75" stroke-width="0.9" stroke-linejoin="round"/>
<polyline points="638.5,514 640,535 640,560" fill="none" stroke="#f4f4f4" stroke-opacity="0.75" stroke-width="0.9" stroke-linejoin="round"/>
</g>
<defs><filter id="bl" x="-2%" y="-2%" width="104%" height="104%"><feGaussianBlur stdDeviation="0.7"/></filter></defs>
<!-- legend matrix -->
<g stroke="rgba(80,50,20,.45)" stroke-width="0.8">
<rect x="51.8" y="57.8" width="55.1" height="26" fill="#7e1b13"/><rect x="108.5" y="57.8" width="57.5" height="26" fill="#7e1b13"/><rect x="167.6" y="57.8" width="55.6" height="26" fill="#7e1b13"/>
<rect x="51.8" y="85.4" width="55.1" height="28.6" fill="#bf441d"/><rect x="108.5" y="85.4" width="57.5" height="28.6" fill="#bf441d"/><rect x="167.6" y="85.4" width="55.6" height="28.6" fill="#bf441d"/>
<rect x="51.8" y="115.6" width="55.1" height="29.6" fill="#f3ab36"/><rect x="108.5" y="115.6" width="57.5" height="29.6" fill="#f3ab36"/><rect x="167.6" y="115.6" width="55.6" height="29.6" fill="#bf441d"/>
<rect x="51.8" y="146.8" width="55.1" height="29.9" fill="#66b532"/><rect x="108.5" y="146.8" width="57.5" height="29.9" fill="#f3ab36"/><rect x="167.6" y="146.8" width="55.6" height="29.9" fill="#f3ab36"/>
<rect x="51.8" y="178.3" width="55.1" height="28.4" fill="#66b532"/><rect x="108.5" y="178.3" width="57.5" height="28.4" fill="#66b532"/><rect x="167.6" y="178.3" width="55.6" height="28.4" fill="#f3ab36"/>
</g>
<g stroke="#222" stroke-width="1.3" fill="#222">
<line x1="32.2" y1="209" x2="32.2" y2="63"/><polygon points="32.2,53.5 28.5,64.5 36,64.5" stroke="none"/>
<line x1="44.5" y1="226" x2="211" y2="226"/><polygon points="221.5,226 209.5,222.3 209.5,229.7" stroke="none"/>
</g>
</svg>
<div class="t title" id="t1" style="top:0.5px;">per 100 000 population and test positivity, EU/EEA</div>
<div class="t title" id="t2" style="top:18px;">weeks 31 - 32</div>

<div class="tiny" style="left:63px;top:211px;width:40px;text-align:center;font-size:7px;">&lt;1%</div>
<div class="tiny" style="left:119px;top:211px;width:40px;text-align:center;font-size:7px;">1&lt;4%</div>
<div class="tiny" style="left:176.5px;top:211px;width:40px;text-align:center;font-size:7px;">&ge;4%</div>
<div class="tiny" style="left:98px;top:232px;width:80px;text-align:center;font-size:7px;transform:scaleX(1.12);">Positivity rate</div>
<div class="tiny" style="left:-66px;top:129.5px;width:180px;text-align:center;transform:rotate(-90deg);font-size:7px;letter-spacing:.45px;">14-day notification rate per 100 000 population</div>
<div class="tiny" style="left:31.3px;top:67.5px;width:30px;text-align:center;transform:rotate(-90deg);font-size:5px;">&gt;500</div>
<div class="tiny" style="left:31.3px;top:95px;width:30px;text-align:center;transform:rotate(-90deg);font-size:5px;">200-500</div>
<div class="tiny" style="left:31.3px;top:128.3px;width:30px;text-align:center;transform:rotate(-90deg);font-size:5px;">75-200</div>
<div class="tiny" style="left:31.3px;top:157.8px;width:30px;text-align:center;transform:rotate(-90deg);font-size:5px;">50-75</div>
<div class="tiny" style="left:31.3px;top:191.5px;width:30px;text-align:center;transform:rotate(-90deg);font-size:5px;">&lt;50</div>

<div class="sw" style="left:17px;top:256px;width:37px;height:19px;background:#bdbdbd;border-color:#999;"></div>
<div class="lb" style="left:63px;top:261px;font-size:12.4px;">Testing rate &lt; 300 per 100 000 population</div>
<div class="sw" style="left:17px;top:282px;width:37px;height:19px;background:#8f8f8f;border-color:#777;"></div>
<div class="lb" style="left:63px;top:286px;">No data available</div>
<div class="sw" style="left:17px;top:307px;width:37px;height:19px;background:#e4e4e4;border-color:#aaa;"></div>
<div class="lb" style="left:63px;top:311px;">Not included</div>

<div class="hd" style="top:333.2px;letter-spacing:-0.13px;">Regions not visible</div>
<div class="hd" style="top:352px;letter-spacing:0.16px;">in the main map extent</div>

<div class="sw" style="left:17px;top:375px;width:37px;height:17px;background:#bf441d;"></div>
<div class="lb" style="left:62px;top:378px;">Azores</div>
<div class="sw" style="left:153px;top:375px;width:37px;height:17px;background:#bf441d;"></div>
<div class="lb" style="left:198px;top:378px;">Canary Islands</div>

<div class="sw" style="left:17px;top:398px;width:37px;height:18px;background:#7e1b13;"></div>
<div class="lb" style="left:62px;top:397px;font-size:9.8px;line-height:10.5px;">Guadeloupe<br>and Saint Martin</div>
<div class="sw" style="left:153px;top:398px;width:37px;height:18px;background:#7e1b13;"></div>
<div class="lb" style="left:198px;top:403px;">Guyane</div>

<div class="sw" style="left:17px;top:423px;width:37px;height:17px;background:#7e1b13;"></div>
<div class="lb" style="left:62px;top:427px;">La Reunion</div>
<div class="sw" style="left:153px;top:423px;width:37px;height:17px;background:#f3ab36;"></div>
<div class="lb" style="left:198px;top:427px;">Madeira</div>

<div class="sw" style="left:17px;top:447px;width:37px;height:18px;background:#7e1b13;"></div>
<div class="lb" style="left:62px;top:451px;">Martinique</div>
<div class="sw" style="left:153px;top:447px;width:37px;height:18px;background:#66b532;"></div>
<div class="lb" style="left:198px;top:451px;">Mayotte</div>

<div class="hd" style="top:486px;">Countries not visible</div>
<div class="hd" style="top:504px;letter-spacing:0.16px;">in the main map extent</div>

<div class="sw" style="left:17px;top:525px;width:37px;height:18px;background:#f3ab36;"></div>
<div class="lb" style="left:62px;top:529px;">Malta</div>
<div class="sw" style="left:153px;top:529px;width:37px;height:17px;background:#bf441d;"></div>
<div class="lb" style="left:198px;top:531px;">Liechtenstein</div>

<div class="ft" id="f1" style="top:564px;transform:scaleX(1.092);">Administrative boundaries: &copy; EuroGeographics &copy; UN-FAO &copy; Turkstat.&copy;Kartverket&copy;Instituto Nacional de Estat&iacute;stica - Statistics Portugal.</div>
<div class="ft" id="f2" style="top:573px;transform:scaleX(1.081);">The boundaries and names shown on this map do not imply official endorsement or acceptance by the European Union. ECDC. Map produced on: 19 Aug 2021</div>
</body></html>
